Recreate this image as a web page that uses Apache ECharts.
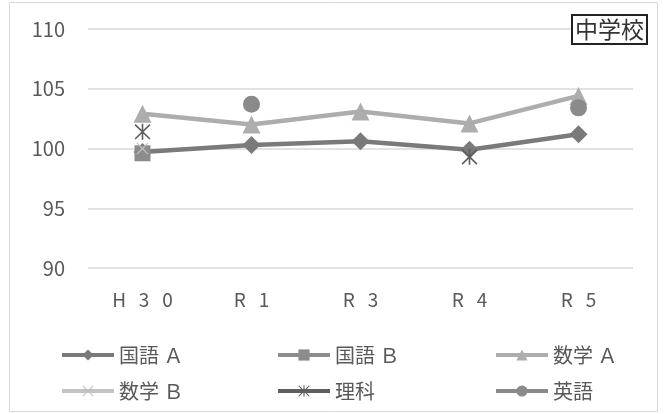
<!DOCTYPE html>
<html>
<head>
<meta charset="utf-8">
<script src="https://cdn.jsdelivr.net/npm/echarts@6/dist/echarts.min.js"></script>
<style>
  html, body { margin: 0; padding: 0; background: #fff; }
  #chart { width: 666px; height: 414px; }
</style>
</head>
<body>
<div id="chart"></div>
<script>
// 年度
const years = ["H30", "R1", "R3", "R4", "R5"];
const yTicks = [90, 95, 100, 105, 110];

// 各教科（全国比）
const kokugoA = [99.7, 100.3, 100.6, 99.9, 101.2];
const kokugoB = [99.6, null, null, null, null];
const sugakuA = [102.9, 102.0, 103.1, 102.1, 104.4];
const sugakuB = [100.0, null, null, null, null];
const rika = [101.4, null, null, 99.3, null];
const eigo = [null, 103.7, null, null, 103.4];

const FONT = "Noto Sans CJK JP";
const TXT = "#595959";

const xMark = "path://M0.3,1.7 L1.7,0.3 L19.7,18.3 L18.3,19.7 Z M18.3,0.3 L19.7,1.7 L1.7,19.7 L0.3,18.3 Z";
const starMark = "path://M9,0 L11,0 L11,20 L9,20 Z M0.3,1.7 L1.7,0.3 L19.7,18.3 L18.3,19.7 Z M18.3,0.3 L19.7,1.7 L1.7,19.7 L0.3,18.3 Z";

function line(name, data, color, symbol, size) {
  return {
    name: name,
    type: "line",
    data: data,
    symbol: symbol,
    symbolSize: size,
    showAllSymbol: true,
    lineStyle: { width: 4.5, color: color },
    itemStyle: { color: color },
    emphasis: { disabled: true }
  };
}

const legendBase = {
  orient: "vertical",
  top: 340,
  itemWidth: 52,
  itemHeight: 14,
  itemGap: 16,
  lineStyle: { width: 4 },
  textStyle: { fontFamily: FONT, fontSize: 20, color: TXT }
};

const chart = echarts.init(document.getElementById("chart"));
chart.setOption({
  animation: false,
  grid: { left: 88, right: 33, top: 29, bottom: 146 },
  xAxis: {
    type: "category",
    data: years,
    axisLine: { show: false },
    axisTick: { show: false },
    axisLabel: {
      margin: 22,
      fontFamily: FONT,
      fontSize: 19,
      color: TXT,
      formatter: function (v) { return v.split("").join("   "); }
    }
  },
  yAxis: {
    type: "value",
    min: yTicks[0],
    max: yTicks[yTicks.length - 1],
    interval: 5,
    axisLine: { show: false },
    axisTick: { show: false },
    axisLabel: { margin: 8, padding: [0, 15, 0, 0], fontFamily: FONT, fontSize: 20, color: TXT },
    splitLine: { lineStyle: { color: "#d9d9d9", width: 1.5 } }
  },
  legend: [
    Object.assign({ left: 55, data: ["国語 Ａ", "数学 Ｂ"] }, legendBase),
    Object.assign({ left: 271, data: ["国語 Ｂ", "理科"] }, legendBase),
    Object.assign({ left: 489, data: ["数学 Ａ", "英語"] }, legendBase)
  ],
  series: [
    line("国語 Ａ", kokugoA, "#7a7a7a", "diamond", 18),
    line("国語 Ｂ", kokugoB, "#8c8c8c", "rect", 16),
    line("数学 Ａ", sugakuA, "#adadad", "triangle", 18),
    line("数学 Ｂ", sugakuB, "#c3c3c3", xMark, 12),
    line("理科", rika, "#5f5f5f", starMark, 16),
    line("英語", eigo, "#8a8a8a", "circle", 17)
  ],
  graphic: [
    {
      type: "rect",
      shape: { x: 9.5, y: 2.5, width: 648, height: 409 },
      style: { fill: null, stroke: "#d9d9d9", lineWidth: 1 },
      silent: true
    },
    {
      type: "rect",
      shape: { x: 572, y: 15, width: 75, height: 29 },
      style: { fill: "#fff", stroke: "#222", lineWidth: 2 },
      z: 10
    },
    {
      type: "text",
      x: 609.5,
      y: 29.5,
      style: {
        text: "中学校",
        fontFamily: FONT,
        fontSize: 23,
        fill: "#333",
        align: "center",
        verticalAlign: "middle"
      },
      z: 11
    }
  ]
});
</script>
</body>
</html>
